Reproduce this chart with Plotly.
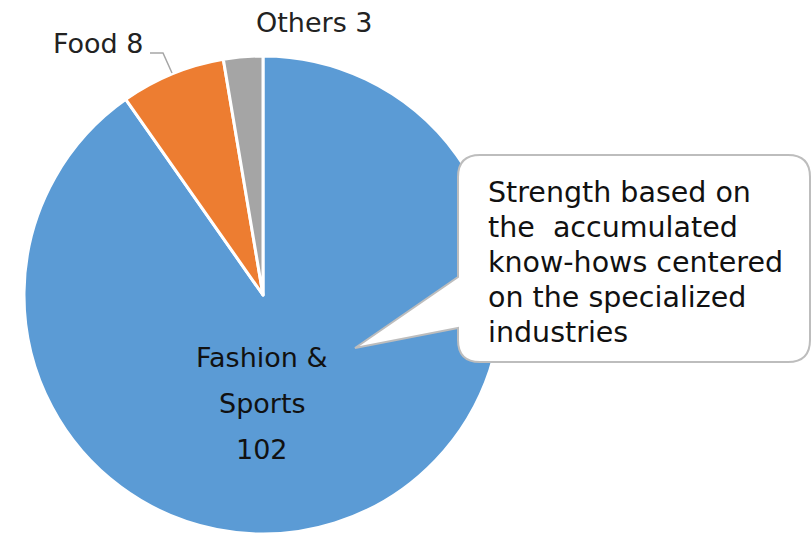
import plotly.graph_objects as go

W, H = 812, 534

categories = ["Fashion & Sports", "Food", "Others"]
values = [102, 8, 3]
colors = ["#5B9BD5", "#ED7D31", "#A5A5A5"]
callout_lines = ["Strength based on", "the  accumulated", "know-hows centered",
                 "on the specialized", "industries"]

def px(x):
    return x / W

def py(y):
    return 1 - y / H

cx, cy, r = 263, 295, 239

fig = go.Figure(go.Pie(
    labels=categories, values=values, sort=False, direction="clockwise",
    rotation=0, marker=dict(colors=colors, line=dict(color="white", width=3)),
    textinfo="none", showlegend=False, hoverinfo="label+value",
    domain=dict(x=[px(cx - r), px(cx + r)], y=[py(cy + r), py(cy - r)]),
))

font = "DejaVu Sans, Verdana, sans-serif"
annots = []
# Slice labels
annots.append(dict(x=px(262), y=py(357), text="Fashion &", showarrow=False,
                   xanchor="center", yanchor="middle", font=dict(size=27, color="#111")))
annots.append(dict(x=px(262), y=py(403), text="Sports", showarrow=False,
                   xanchor="center", yanchor="middle", font=dict(size=27, color="#111")))
annots.append(dict(x=px(262), y=py(449), text=str(values[0]), showarrow=False,
                   xanchor="center", yanchor="middle", font=dict(size=27, color="#111")))
annots.append(dict(x=px(51), y=py(44), text=f"{categories[1]} {values[1]}", showarrow=False,
                   xanchor="left", yanchor="middle", font=dict(size=27, color="#222")))
annots.append(dict(x=px(254), y=py(23), text=f"{categories[2]} {values[2]}", showarrow=False,
                   xanchor="left", yanchor="middle", font=dict(size=27, color="#222")))

# Callout text
for i, line in enumerate(callout_lines):
    annots.append(dict(x=px(486), y=py(192 + 35 * i), text=line, showarrow=False,
                       xanchor="left", yanchor="middle", font=dict(size=28.5, color="#111")))

def path(points):
    s = ""
    for cmd, pts in points:
        s += cmd + " " + " ".join(f"{px(a):.5f},{py(b):.5f}" for a, b in pts) + " "
    return s + "Z"

callout = path([
    ("M", [(480, 155)]), ("L", [(788, 155)]), ("Q", [(810, 155), (810, 177)]),
    ("L", [(810, 340)]), ("Q", [(810, 362), (788, 362)]), ("L", [(480, 362)]),
    ("Q", [(458, 362), (458, 340)]), ("L", [(458, 328)]), ("L", [(355, 348)]),
    ("L", [(458, 277)]), ("L", [(458, 177)]), ("Q", [(458, 155), (480, 155)]),
])
leader = f"M {px(150)},{py(53)} L {px(163)},{py(53)} L {px(172)},{py(73)}"

fig.update_layout(
    width=W, height=H, margin=dict(l=0, r=0, t=0, b=0),
    paper_bgcolor="white", plot_bgcolor="white",
    font=dict(family=font),
    annotations=annots,
    shapes=[
        dict(type="path", path=callout, xref="paper", yref="paper",
             fillcolor="white", line=dict(color="#BDBDBD", width=2), layer="above"),
        dict(type="path", path=leader, xref="paper", yref="paper",
             line=dict(color="#A6A6A6", width=1.5), layer="above"),
    ],
)

fig.write_html("out.html")
